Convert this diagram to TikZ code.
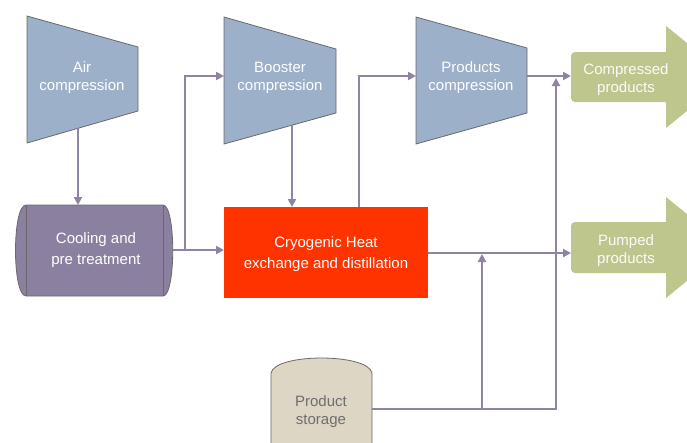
\documentclass[tikz,border=0pt]{standalone}
\usepackage{fontspec}
\setmainfont{Liberation Sans}
\usetikzlibrary{arrows.meta}

\definecolor{compfill}{RGB}{156,176,201}
\definecolor{edgegrey}{RGB}{105,105,105}
\definecolor{coolfill}{RGB}{139,128,160}
\definecolor{cryored}{RGB}{255,51,0}
\definecolor{prodgreen}{RGB}{190,198,142}
\definecolor{storefill}{RGB}{221,214,196}
\definecolor{pipe}{RGB}{142,131,165}
\definecolor{storetext}{RGB}{110,110,110}

\tikzset{
  compressor/.style={fill=compfill, draw=edgegrey, line width=0.8pt},
  outlet/.style={fill=prodgreen, draw=none},
  tank/.style={fill=storefill, draw=edgegrey, line width=0.8pt},
  label/.style={font=\fontsize{15}{18}\selectfont, align=center, text=white, inner sep=0pt},
  widelabel/.style={label, font=\fontsize{15}{21.5}\selectfont},
  pipeline/.style={draw=pipe, line width=2.6pt},
  flow/.style={pipeline, -{Triangle[length=8pt,width=8pt]}},
}

\begin{document}
\begin{tikzpicture}[x=1pt, y=-1pt]
\useasboundingbox (0,0) rectangle (687,442);
\clip (0,0) rectangle (687,442);

% compressors (trapezoids)
\draw[compressor] (27,16) -- (138,47) -- (138,111) -- (27,143) -- cycle;
\draw[compressor] (224,17) -- (336,49) -- (336,113) -- (224,144) -- cycle;
\draw[compressor] (416,17) -- (527,48) -- (527,113) -- (416,144) -- cycle;

% cooling vessel (horizontal drum)
\fill[coolfill] (26,205) -- (163,205) .. controls (176,205) and (176,296) .. (163,296)
  -- (26,296) .. controls (12,296) and (12,205) .. (26,205) -- cycle;
\draw[edgegrey, line width=0.8pt] (26,205) -- (163,205) .. controls (176,205) and (176,296) .. (163,296)
  -- (26,296) .. controls (12,296) and (12,205) .. (26,205);
\draw[edgegrey, line width=0.8pt] (26,205) -- (26,296) (163,205) -- (163,296);

% cold box
\fill[cryored] (224,207) rectangle (428,298);

% product outlets (block arrows)
\fill[outlet, rounded corners=4pt] (666,52) -- (571,52) -- (571,102) -- (666,102);
\fill[outlet] (665,52) -- (666,52) -- (666,26) -- (729,77) -- (666,128) -- (666,102) -- (665,102) -- cycle;
\fill[outlet, rounded corners=4pt] (666,222) -- (571,222) -- (571,273) -- (666,273);
\fill[outlet] (665,222) -- (666,222) -- (666,197) -- (728,247.5) -- (666,298) -- (666,273) -- (665,273) -- cycle;

% product storage tank
\draw[tank] (271,450) -- (271,373) .. controls (275,353) and (368,353) .. (372,373) -- (372,450);

% labels
\node[label] (air) at (82,78) {Air\\compression};
\node[label] (boost) at (280,78) {Booster\\compression};
\node[label] (prodc) at (471,78) {Products\\compression};
\node[widelabel] (cool) at (96,250) {Cooling and\\pre treatment};
\node[widelabel] (cryo) at (326,254) {Cryogenic Heat\\exchange and distillation};
\node[label, text=white!94!prodgreen] (cprod) at (626,80) {Compressed\\products};
\node[label, text=white!94!prodgreen] (pprod) at (626,251) {Pumped\\products};
\node[label, text=storetext] (store) at (321,412) {Product\\storage};

% connection points
\coordinate (airOut) at (78,128);
\coordinate (coolIn) at (78,205);
\coordinate (coolOut) at (173,250);
\coordinate (cryoIn) at (224,250);
\coordinate (teeA) at (185,250);
\coordinate (boostIn) at (224,76);
\coordinate (boostOut) at (292,125);
\coordinate (cryoTop) at (292,207);
\coordinate (cryoUp) at (359,207);
\coordinate (prodIn) at (416,76);
\coordinate (prodOut) at (527,76);
\coordinate (cprodIn) at (571,76);
\coordinate (cryoOut) at (428,253);
\coordinate (pprodIn) at (571,253);
\coordinate (storeOut) at (372,409);
\coordinate (teeB) at (482,409);
\coordinate (riserB) at (482,254);
\coordinate (riserC) at (556,78);

% connectors
\draw[flow] (airOut) -- (coolIn);
\draw[flow] (coolOut) -- (cryoIn);
\draw[flow] (teeA) |- (boostIn);
\draw[flow] (boostOut) -- (cryoTop);
\draw[flow] (cryoUp) |- (prodIn);
\draw[flow] (prodOut) -- (cprodIn);
\draw[flow] (cryoOut) -- (pprodIn);
\draw[flow] (storeOut) -| (riserC);
\draw[flow] (teeB) -- (riserB);

\end{tikzpicture}
\end{document}
